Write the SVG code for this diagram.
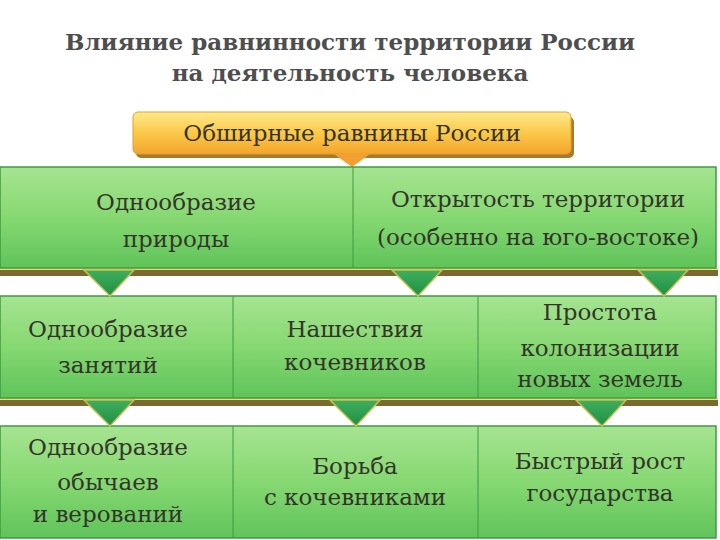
<svg xmlns="http://www.w3.org/2000/svg" width="720" height="540" viewBox="0 0 720 540">
<defs>
<linearGradient id="gOr" x1="0" y1="0" x2="0" y2="1">
<stop offset="0" stop-color="#fde98a"/>
<stop offset="0.5" stop-color="#fbc94a"/>
<stop offset="1" stop-color="#f4a52c"/>
</linearGradient>
<linearGradient id="gGr" x1="0" y1="0" x2="0" y2="1">
<stop offset="0" stop-color="#a6e491"/>
<stop offset="0.5" stop-color="#86d872"/>
<stop offset="1" stop-color="#5fc45a"/>
</linearGradient>
<linearGradient id="gTri" x1="0" y1="0" x2="0" y2="1">
<stop offset="0" stop-color="#3fae5c"/>
<stop offset="1" stop-color="#1f8f45"/>
</linearGradient>
<style>
.t{font-family:"DejaVu Serif","Liberation Serif",serif;font-size:23px;fill:#34342a;text-anchor:middle;}
.h{font-family:"DejaVu Serif","Liberation Serif",serif;font-size:23px;font-weight:bold;fill:#4e4e4e;text-anchor:middle;}
.box{fill:url(#gGr);stroke:#3f9a45;stroke-width:1.5;}
.div{stroke:#3f9a45;stroke-width:1;}
.sh{fill:#7a6a30;}
.hl{stroke:#e8e070;stroke-width:2;}
.tri{fill:url(#gTri);stroke:#c8c050;stroke-width:1.5;}
</style>
</defs>
<rect width="720" height="540" fill="#ffffff"/>
<g id="title">
<text class="h" x="350" y="50">Влияние равнинности территории России</text>
<text class="h" x="350" y="81">на деятельность человека</text>
</g>
<g id="top">
<rect x="136" y="117" width="438" height="41" rx="5" fill="#a87a30"/>
<rect x="133" y="112" width="438" height="42" rx="5" fill="url(#gOr)" stroke="#e0a030" stroke-width="1"/>
<polygon points="334,154 370,154 352,167" fill="#f4a030"/>
<text class="t" x="352" y="141">Обширные равнины России</text>
</g>
<g id="row1">
<rect class="sh" x="0" y="268" width="718" height="8"/>
<line class="hl" x1="0" y1="269" x2="718" y2="269"/>
<rect class="box" x="0" y="167" width="716" height="101"/>
<line class="div" x1="353" y1="167" x2="353" y2="268"/>
</g>
<g id="n1a"><text class="t" x="176" y="210">Однообразие</text><text class="t" x="176" y="247">природы</text></g>
<g id="n1b"><text class="t" x="538" y="207">Открытость территории</text><text class="t" x="538" y="245">(особенно на юго-востоке)</text></g>
<g id="row2">
<rect class="sh" x="0" y="398" width="718" height="8"/>
<line class="hl" x1="0" y1="399" x2="718" y2="399"/>
<rect class="box" x="0" y="296" width="716" height="102"/>
<line class="div" x1="233" y1="296" x2="233" y2="398"/>
<line class="div" x1="478" y1="296" x2="478" y2="398"/>
</g>
<g id="n2a"><text class="t" x="108" y="337">Однообразие</text><text class="t" x="108" y="373">занятий</text></g>
<g id="n2b"><text class="t" x="355" y="337">Нашествия</text><text class="t" x="355" y="370">кочевников</text></g>
<g id="n2c"><text class="t" x="600" y="320">Простота</text><text class="t" x="600" y="356">колонизации</text><text class="t" x="600" y="387">новых земель</text></g>
<g id="row3">
<rect class="box" x="0" y="426" width="716" height="112"/>
<line class="div" x1="233" y1="426" x2="233" y2="538"/>
<line class="div" x1="478" y1="426" x2="478" y2="538"/>
</g>
<g id="n3a"><text class="t" x="108" y="455">Однообразие</text><text class="t" x="108" y="490">обычаев</text><text class="t" x="108" y="522">и верований</text></g>
<g id="n3b"><text class="t" x="355" y="474">Борьба</text><text class="t" x="355" y="505">с кочевниками</text></g>
<g id="n3c"><text class="t" x="600" y="469">Быстрый рост</text><text class="t" x="600" y="501">государства</text></g>
<g id="connectors">
<polygon class="tri" points="84,270 134,270 110,296"/>
<polygon class="tri" points="392,270 442,270 418,296"/>
<polygon class="tri" points="638,270 688,270 664,296"/>
<polygon class="tri" points="84,400 134,400 110,426"/>
<polygon class="tri" points="330,400 380,400 356,426"/>
<polygon class="tri" points="576,400 626,400 602,426"/>
</g>
</svg>
